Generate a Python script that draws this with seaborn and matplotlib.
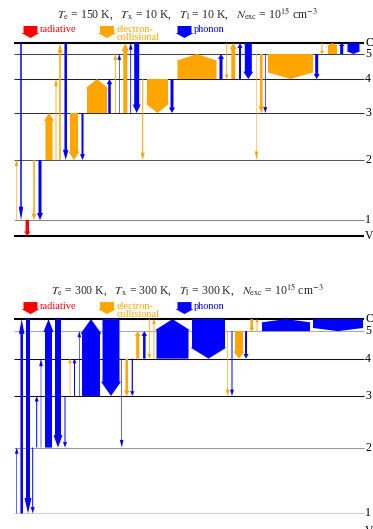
import matplotlib
matplotlib.use("Agg")
import matplotlib.pyplot as plt
from matplotlib.patches import Polygon
import seaborn as sns

sns.set_theme(style="white")
plt.rcParams['font.family'] = ['Liberation Serif', 'DejaVu Serif']
plt.rcParams['mathtext.fontset'] = 'stix'

# energy levels (V = ground, C = continuum), arbitrary units
levels = ['V', '1', '2', '3', '4', '5', 'C']
level_energy = [0, 16, 76, 123, 157, 182, 193]

kind_color = {'r': '#ff0000', 'e': '#ffa500', 'p': '#0000ff'}
kind_label = {'r': 'radiative', 'e': 'electron-\ncollisional', 'p': 'phonon'}

# ---- top panel: Te = 150 K
top_title = (r"$T_\mathrm{e}$ = 150 K,   $T_\mathrm{x}$ = 10 K,   $T_\mathrm{l}$ = 10 K,   "
             r"$N_\mathrm{exc}$ = 10$^{15}$ cm$^{-3}$")
top_x = [16.5, 21, 27.3, 34, 40, 49, 56, 60, 65.7, 74, 82.5, 97, 109.5, 115.3, 119.3,
         125.3, 130.7, 136.7, 142.7, 157.5, 172, 197, 221, 226.7, 233.3, 240, 248.3,
         256.5, 261.3, 265.3, 290.5, 316.7, 322, 332.5, 341.7, 353.5]
top_from = ['1', 'C', '1', '2', '2', '2', '2', '2', 'C', '3', '3', '3', '3', '3', '3',
            '3', '3', 'C', '4', '4', '4', '4', '4', 'C', '4', '4', 'C',
            '5', '5', '5', '5', '5', 'C', '5', '5', 'C']
top_to = ['2', '1', 'V', '1', '1', '3', '4', 'C', '2', '2', '2', '4', '4', '5', '5',
          'C', 'C', '3', '2', '3', '3', '5', '5', '4', 'C', 'C', '4',
          '2', '3', '3', '4', '4', '5', 'C', 'C', '5']
top_kind = ['e', 'p', 'r', 'e', 'p', 'e', 'e', 'e', 'p', 'e', 'p', 'e', 'p', 'e', 'p',
            'e', 'p', 'p', 'e', 'e', 'p', 'e', 'p', 'e', 'e', 'p', 'p',
            'e', 'e', 'p', 'e', 'p', 'e', 'e', 'p', 'p']
top_rate = [0.6, 1.5, 3.5, 1.5, 3, 7, 0.8, 1.5, 2.5, 8, 2, 20, 2.5, 0.8, 0.6,
            4, 0.8, 5, 1, 21, 3, 39, 3, 0.8, 4, 2, 7,
            0.5, 2.5, 0.7, 45, 3, 1, 9, 3, 12]
top_line_colors = ['#000000', '#888888', '#555555', '#333333', '#222222', '#444444', '#000000']

# ---- bottom panel: Te = 300 K
bot_title = (r"$T_\mathrm{e}$ = 300 K,   $T_\mathrm{x}$ = 300 K,   $T_\mathrm{l}$ = 300 K,   "
             r"$N_\mathrm{exc}$ = 10$^{15}$ cm$^{-3}$")
bot_x = [16.7, 21.7, 28, 32.7, 36.7, 41, 48.5, 58, 65, 70, 74.5, 79.3, 91, 111, 121.7,
         126.7, 132.3, 137.7, 144.3, 149.3, 154, 172.5, 208.5, 227.7, 232, 239, 246,
         251.7, 257, 286, 338]
bot_from = ['1', '1', 'C', '2', '2', '2', '2', 'C', '3', '3', '3', '3', '3', 'C', '4',
            '4', '4', '4', '4', 'C', '4', '4', 'C', '5', '5', '5', '5',
            'C', '5', '5', 'C']
bot_to = ['2', 'C', '1', '1', '3', '4', 'C', '2', '2', '4', '4', '5', 'C', '3', '2',
          '3', '3', '5', '5', '4', 'C', 'C', '4', '3', '3', '4', '4',
          '5', 'C', 'C', '5']
bot_kind = ['p', 'p', 'p', 'p', 'p', 'p', 'p', 'p', 'p', 'e', 'p', 'p', 'p', 'p', 'p',
            'e', 'p', 'e', 'p', 'e', 'e', 'p', 'p', 'e', 'p', 'e', 'p',
            'e', 'e', 'p', 'p']
bot_rate = [0.6, 2.5, 4, 1, 1, 0.6, 7, 6, 1, 0.6, 1, 0.6, 18, 17, 0.6,
            2.5, 1.2, 3, 2.5, 0.8, 0.8, 32, 33, 0.7, 1, 8, 2,
            2.5, 0.8, 48, 50]
bot_line_colors = ['#000000', '#cccccc', '#999999', '#111111', '#111111', '#aaaaaa', '#000000']

W, H = 373, 529
E = dict(zip(levels, level_energy))


def arrow(ax, x, y0, y1, w, color, ppu):
    L = abs(y1 - y0) * ppu
    hl = min(2 + 0.45 * w + 0.06 * L, 0.28 * L) / ppu
    hw = w + 3
    s = 1 if y1 > y0 else -1
    yb = y1 - s * hl
    pts = [(x - w / 2, y0), (x + w / 2, y0), (x + w / 2, yb), (x + hw / 2, yb),
           (x, y1), (x - hw / 2, yb), (x - w / 2, yb)]
    ax.add_patch(Polygon(pts, closed=True, fc=color, ec='none', lw=0, zorder=3))


def panel(row_top, row_bot, v_row, ppu, title, xs, fr, to, kind, rate, line_colors):
    ax = fig.add_axes([0, 1 - row_bot / H, 1, (row_bot - row_top) / H])
    ax.set_xlim(0, W)
    ax.set_ylim((v_row - row_bot) / ppu, (v_row - row_top) / ppu)
    ax.axis('off')

    for lev, c in zip(levels, line_colors):
        lw = 1.5 if lev in ('V', 'C') else 0.75
        ax.hlines(E[lev], 14, 364, color=c, lw=lw, zorder=1)
        ax.text(365, E[lev], lev, ha='left', va='center', fontsize=8.5, color='black')

    for x, a, b, k, r in zip(xs, fr, to, kind, rate):
        arrow(ax, x, E[a], E[b], r, kind_color[k], ppu)

    top = E['C']
    ax.text(187, top + 25 / ppu, title, ha='center', va='baseline', fontsize=8.5)

    # legend icons
    for cx, k in zip([30.5, 107, 184.5], ['r', 'e', 'p']):
        tip = top + 5 / ppu
        yb = tip + 5 / ppu
        yt = yb + 7 / ppu
        pts = [(cx - 7, yt), (cx + 7, yt), (cx + 7, yb), (cx + 9, yb), (cx, tip),
               (cx - 9, yb), (cx - 7, yb)]
        ax.add_patch(Polygon(pts, closed=True, fc=kind_color[k], ec='none', zorder=3))
        ax.text(cx + 9.5, top + 17.5 / ppu, kind_label[k], ha='left', va='top',
                fontsize=7.5, color=kind_color[k], linespacing=0.85)
    return ax


fig = plt.figure(figsize=(W / 100, H / 100), dpi=100)
panel(0, 262, 236, 1.0, top_title, top_x, top_from, top_to, top_kind, top_rate, top_line_colors)
panel(266, 529, 531, 1.098, bot_title, bot_x, bot_from, bot_to, bot_kind, bot_rate, bot_line_colors)
fig.savefig('out.png', dpi=100)
